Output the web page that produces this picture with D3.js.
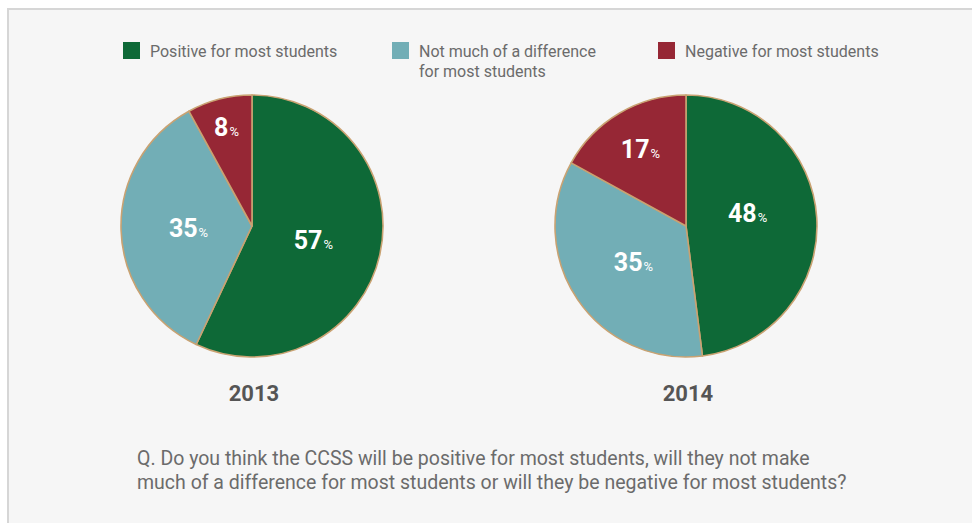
<!DOCTYPE html>
<html>
<head>
<meta charset="utf-8">
<script src="https://cdn.jsdelivr.net/npm/d3@7/dist/d3.min.js"></script>
<style>
  html, body { margin: 0; padding: 0; background: #ffffff; }
  svg { display: block; }
  text { font-family: "Roboto", "Liberation Sans", sans-serif; }
</style>
</head>
<body>
<svg id="chart" width="972" height="523"></svg>
<script>
// Survey responses, share of respondents (%)
const categories = ["Positive for most students", "Not much of a difference for most students", "Negative for most students"];
const legendLines = [["Positive for most students"], ["Not much of a difference", "for most students"], ["Negative for most students"]];
const years = ["2013", "2014"];
const values2013 = [57, 35, 8];
const values2014 = [48, 35, 17];
const colors = ["#0e6937", "#72aeb6", "#962735"];
const questionLines = [
  "Q. Do you think the CCSS will be positive for most students, will they not make",
  "much of a difference for most students or will they be negative for most students?"
];

const svg = d3.select("#chart");
const W = 972, H = 523;

// panel with light border
svg.append("rect")
  .attr("x", 8).attr("y", 9)
  .attr("width", W).attr("height", H)
  .attr("fill", "#f6f6f6")
  .attr("stroke", "#d6d6d6")
  .attr("stroke-width", 2);

// legend
const legendX = d3.scaleOrdinal().domain(categories).range([123, 392, 658]);
const legend = svg.append("g");
categories.forEach((c, i) => {
  const g = legend.append("g").attr("transform", `translate(${legendX(c)},42)`);
  g.append("rect").attr("width", 17).attr("height", 17).attr("fill", colors[i]);
  const t = g.append("text").attr("x", 27).attr("y", 14.5)
    .attr("fill", "#6b6b6b").attr("font-size", 16);
  legendLines[i].forEach((line, j) => {
    t.append("tspan").attr("x", 27).attr("dy", j === 0 ? 0 : 20).text(line);
  });
});

// pies
const radius = 131;
const centerX = d3.scalePoint().domain(years).range([252, 686]);
const centerY = 226;
const color = d3.scaleOrdinal().domain(categories).range(colors);
const pie = d3.pie().sort(null).value(d => d.value);
const arc = d3.arc().innerRadius(0).outerRadius(radius);

[values2013, values2014].forEach((vals, k) => {
  const data = vals.map((v, i) => ({ cat: categories[i], value: v }));
  const total = d3.sum(vals);
  const g = svg.append("g")
    .attr("transform", `translate(${centerX(years[k])},${centerY})`);

  const arcs = pie(data);
  g.selectAll("path").data(arcs).join("path")
    .attr("d", arc)
    .attr("fill", d => color(d.data.cat))
    .attr("stroke", "#c9a272")
    .attr("stroke-width", 1.6)
    .attr("stroke-linejoin", "round");

  // value labels: smaller slices get pushed further toward the rim
  g.selectAll("text.val").data(arcs).join("text")
    .attr("class", "val")
    .each(function (d) {
      const frac = d.data.value / total;
      const f = Math.max(0.48, 0.87 - 1.1 * frac);
      const a = (d.startAngle + d.endAngle) / 2 - (frac > 0.4 && frac < 0.5 ? 0.14 : 0);
      const r = radius * f;
      const x = Math.sin(a) * r, y = -Math.cos(a) * r;
      const t = d3.select(this)
        .attr("x", x).attr("y", y + 9)
        .attr("text-anchor", "middle")
        .attr("fill", "#ffffff");
      t.append("tspan").attr("font-size", 25).attr("font-weight", "bold").text(d.data.value);
      t.append("tspan").attr("font-size", 13).attr("dx", 1).text("%");
    });

  svg.append("text")
    .attr("x", centerX(years[k]) + 2).attr("y", 401)
    .attr("text-anchor", "middle")
    .attr("fill", "#555555")
    .attr("font-size", 22)
    .attr("font-weight", "bold")
    .text(years[k]);
});

// question
const q = svg.append("text").attr("fill", "#6b6b6b").attr("font-size", 19.5);
questionLines.forEach((line, i) => {
  q.append("tspan").attr("x", 137).attr("y", 465 + i * 24).text(line);
});
</script>
</body>
</html>
